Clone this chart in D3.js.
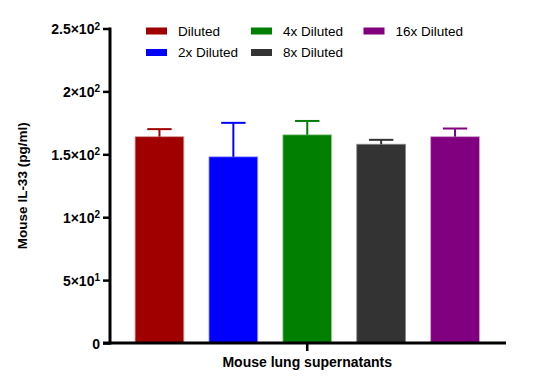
<!DOCTYPE html>
<html>
<head>
<meta charset="utf-8">
<script src="https://cdn.jsdelivr.net/npm/d3@7"></script>
<style>
  body { margin: 0; background: #fff; }
  text { font-family: "Liberation Sans", Arial, sans-serif; }
</style>
</head>
<body>
<div id="chart"></div>
<script>
// data
var groups = ["Diluted", "2x Diluted", "4x Diluted", "8x Diluted", "16x Diluted"];
var means = [164, 148, 165.5, 158, 164];
var upperErr = [170, 175, 176.5, 161.5, 170.5];
var colors = ["#a00000", "#0000ff", "#007f00", "#333333", "#800080"];
var edgeColors = ["#d9a0a0", "#a0a0ff", "#a0d0a0", "#888888", "#d0a0d0"];
var yTicks = [0, 50, 100, 150, 200, 250];
var yTickLabels = [["0", ""], ["5×10", "1"], ["1×10", "2"], ["1.5×10", "2"], ["2×10", "2"], ["2.5×10", "2"]];
var yTitle = "Mouse IL-33 (pg/ml)";
var xTitle = "Mouse lung supernatants";

var W = 550, H = 389;
var svg = d3.select("#chart").append("svg")
  .attr("width", W).attr("height", H);

var x0 = 110, x1 = 506, yTop = 28.5, yBot = 343;

var y = d3.scaleLinear().domain([0, 250]).range([yBot, yTop]);
var x = d3.scaleBand().domain(groups).range([122.5, 492]).paddingInner(0.34).paddingOuter(0.17);

// bars
svg.selectAll("rect.bar")
  .data(groups)
  .enter().append("rect")
  .attr("class", "bar")
  .attr("x", function(d) { return x(d); })
  .attr("y", function(d, i) { return y(means[i]); })
  .attr("width", x.bandwidth())
  .attr("height", function(d, i) { return yBot - y(means[i]); })
  .attr("fill", function(d, i) { return colors[i]; })
  .attr("stroke", function(d, i) { return edgeColors[i]; })
  .attr("stroke-width", 0.8);

// error bars (upper only)
var capW = x.bandwidth() / 2;
groups.forEach(function(g, i) {
  var cx = x(g) + x.bandwidth() / 2;
  svg.append("line")
    .attr("x1", cx).attr("x2", cx)
    .attr("y1", y(means[i])).attr("y2", y(upperErr[i]))
    .attr("stroke", colors[i]).attr("stroke-width", 2);
  svg.append("line")
    .attr("x1", cx - capW / 2).attr("x2", cx + capW / 2)
    .attr("y1", y(upperErr[i])).attr("y2", y(upperErr[i]))
    .attr("stroke", colors[i]).attr("stroke-width", 2);
});

// y axis
var yAxis = d3.axisLeft(y).tickValues(yTicks).tickSize(7).tickFormat("");
var ya = svg.append("g").attr("transform", "translate(" + x0 + ",0)").call(yAxis);
ya.select(".domain").attr("stroke", "#000").attr("stroke-width", 3)
  .attr("d", "M0," + (yTop - 1) + "V" + (yBot + 1.5));
ya.selectAll(".tick line").attr("stroke", "#000").attr("stroke-width", 2.5);

ya.selectAll(".tick").append("text")
  .attr("x", -10).attr("dy", "0.36em")
  .attr("text-anchor", "end")
  .attr("fill", "#000")
  .style("font-size", "14px").style("font-weight", "bold")
  .each(function(d, i) {
    var t = d3.select(this);
    var lab = yTickLabels[yTicks.indexOf(d)];
    t.append("tspan").text(lab[0]);
    if (lab[1]) t.append("tspan").attr("dy", "-0.45em").style("font-size", "10px").text(lab[1]);
  });

// x axis
var xc = x(groups[2]) + x.bandwidth() / 2;
svg.append("line")
  .attr("x1", x0 - 7).attr("x2", x1)
  .attr("y1", yBot).attr("y2", yBot)
  .attr("stroke", "#000").attr("stroke-width", 3);
svg.append("line")
  .attr("x1", xc).attr("x2", xc)
  .attr("y1", yBot).attr("y2", yBot + 8)
  .attr("stroke", "#000").attr("stroke-width", 2.5);

// titles
svg.append("text")
  .attr("x", xc).attr("y", 366.5)
  .attr("text-anchor", "middle")
  .style("font-size", "14px").style("font-weight", "bold")
  .text(xTitle);

svg.append("text")
  .attr("transform", "translate(27," + ((yTop + yBot) / 2) + ") rotate(-90)")
  .attr("text-anchor", "middle")
  .style("font-size", "13.5px").style("font-weight", "bold")
  .text(yTitle);

// legend
var legendPos = [[146, 31], [146, 52.5], [251, 31], [251, 52.5], [363.5, 31]];
groups.forEach(function(g, i) {
  var p = legendPos[i];
  svg.append("rect")
    .attr("x", p[0]).attr("y", p[1] - 3.5)
    .attr("width", 21).attr("height", 7)
    .attr("fill", colors[i]);
  svg.append("text")
    .attr("x", p[0] + 32).attr("y", p[1])
    .attr("dy", "0.36em")
    .style("font-size", "13.5px")
    .text(g);
});
</script>
</body>
</html>
